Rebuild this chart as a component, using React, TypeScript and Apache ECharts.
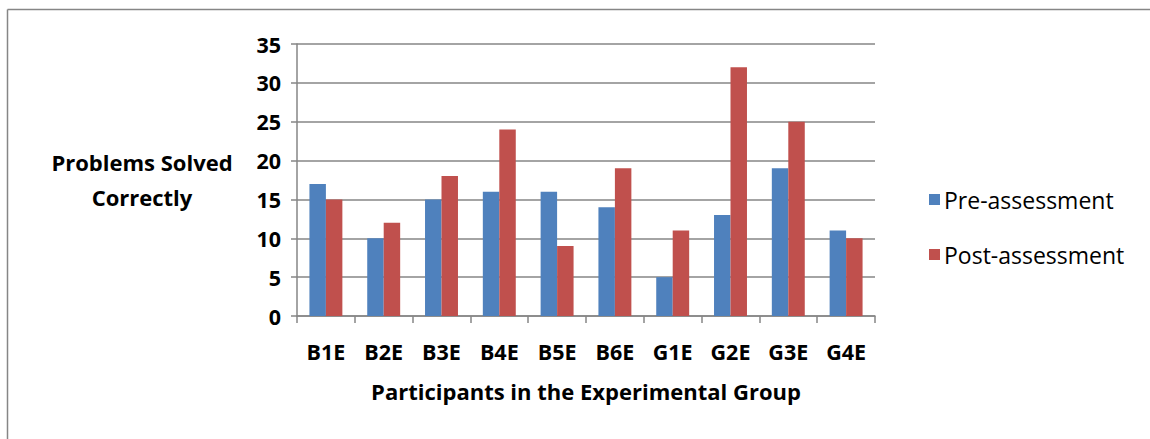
import React, { useEffect, useRef } from "react";
import * as echarts from "echarts";

const categories = ["B1E", "B2E", "B3E", "B4E", "B5E", "B6E", "G1E", "G2E", "G3E", "G4E"];
const preAssessment = [17, 10, 15, 16, 16, 14, 5, 13, 19, 11];
const postAssessment = [15, 12, 18, 24, 9, 19, 11, 32, 25, 10];
const seriesNames = ["Pre-assessment", "Post-assessment"];
const yTitleLines = ["Problems Solved", "Correctly"];
const xTitle = "Participants in the Experimental Group";

const FONT = "'Open Sans', Lato, sans-serif";
const GRID = "#868686";

export default function App() {
  const ref = useRef<HTMLDivElement>(null);
  useEffect(() => {
    if (!ref.current) return;
    const chart = echarts.init(ref.current, null, { renderer: "svg" });
    chart.setOption({
      animation: false,
      backgroundColor: "#ffffff",
      textStyle: { fontFamily: FONT },
      grid: { left: 297, right: 275, top: 44, bottom: 123, containLabel: false },
      legend: {
        orient: "vertical",
        left: 924,
        top: 183,
        itemWidth: 11,
        itemHeight: 11,
        itemGap: 32,
        icon: "rect",
        textStyle: { fontSize: 23, color: "#000", fontFamily: FONT, padding: [0, 0, 0, -1] },
        data: seriesNames,
      },
      xAxis: {
        type: "category",
        data: categories,
        axisLine: { lineStyle: { color: GRID, width: 1.5 } },
        axisTick: { show: true, alignWithLabel: false, length: 7, lineStyle: { color: GRID, width: 1.5 } },
        axisLabel: { fontSize: 21.5, fontWeight: "bold", color: "#000", margin: 24, fontFamily: FONT },
        name: xTitle,
        nameLocation: "middle",
        nameGap: 64,
        nameTextStyle: { fontSize: 22, fontWeight: "bold", color: "#000", fontFamily: FONT },
      },
      yAxis: {
        type: "value",
        min: 0,
        max: 35,
        interval: 5,
        axisLine: { show: true, lineStyle: { color: GRID, width: 1.5 } },
        axisTick: { show: true, length: 6, lineStyle: { color: GRID, width: 1.5 } },
        splitLine: { show: true, lineStyle: { color: GRID, width: 1.5 } },
        axisLabel: { fontSize: 21.5, fontWeight: "bold", color: "#000", margin: 16, fontFamily: FONT },
      },
      graphic: [
        { type: "line", shape: { x1: 7.5, y1: 9.5, x2: 1150, y2: 9.5 }, style: { stroke: GRID, lineWidth: 1.5 } },
        { type: "line", shape: { x1: 7.5, y1: 9.5, x2: 7.5, y2: 439 }, style: { stroke: GRID, lineWidth: 1.5 } },
        {
          type: "text",
          x: 142,
          y: 144,
          style: {
            text: yTitleLines.join("\n"),
            font: `bold 22px ${FONT}`,
            fill: "#000",
            align: "center",
            verticalAlign: "top",
            lineHeight: 35,
          },
        },
      ],
      series: [
        {
          name: seriesNames[0],
          type: "bar",
          data: preAssessment,
          itemStyle: { color: "#4F81BD" },
          barGap: "0%",
          barCategoryGap: "43%",
        },
        {
          name: seriesNames[1],
          type: "bar",
          data: postAssessment,
          itemStyle: { color: "#C0504D" },
          barGap: "0%",
          barCategoryGap: "43%",
        },
      ],
    });
    return () => chart.dispose();
  }, []);
  return <div ref={ref} style={{ position: "fixed", left: 0, top: 0, width: 1150, height: 439 }} />;
}
